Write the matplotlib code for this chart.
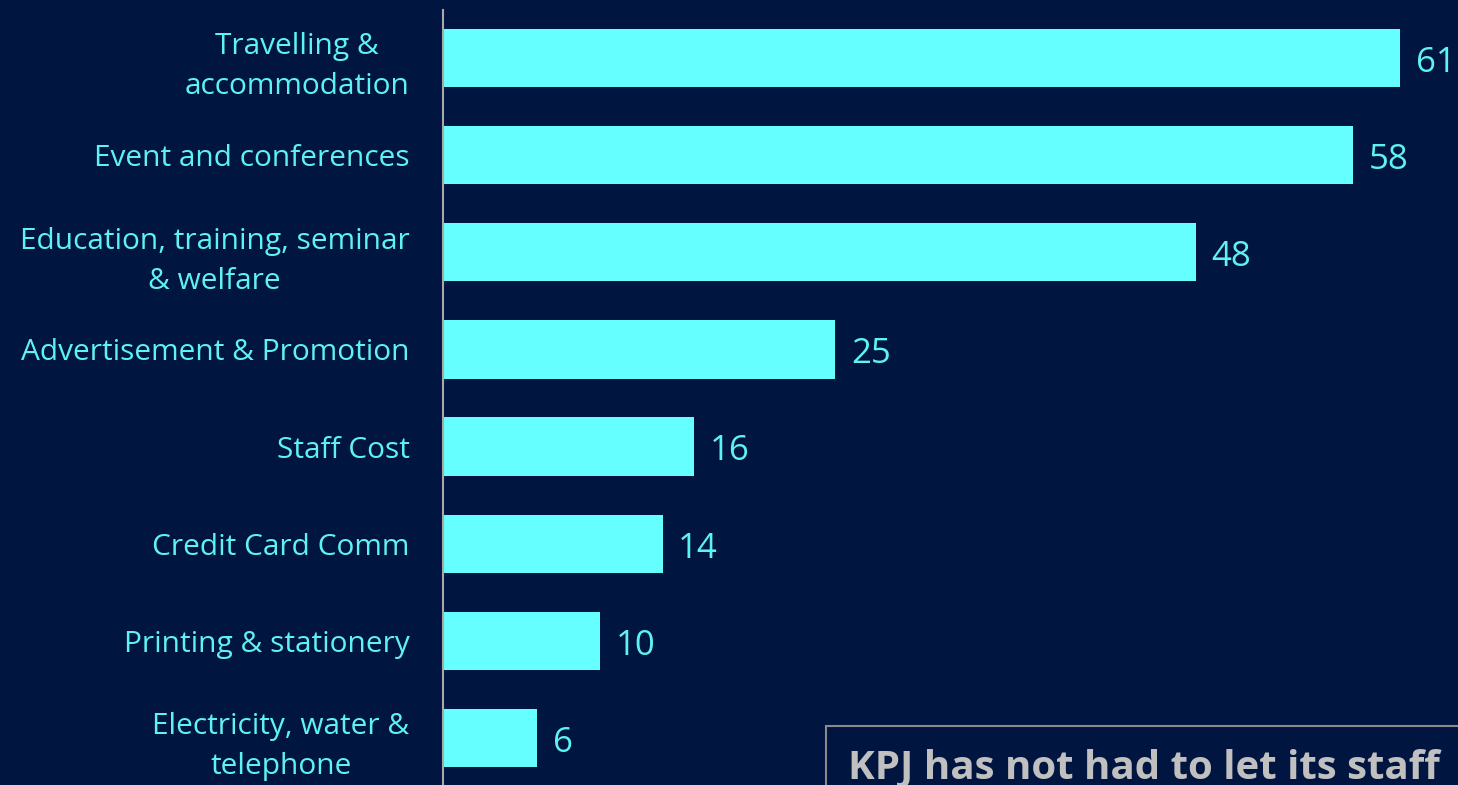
import matplotlib
matplotlib.use("Agg")
import matplotlib.pyplot as plt
from matplotlib.patches import Rectangle

categories = [
    "Travelling &\naccommodation",
    "Event and conferences",
    "Education, training, seminar\n& welfare",
    "Advertisement & Promotion",
    "Staff Cost",
    "Credit Card Comm",
    "Printing & stationery",
    "Electricity, water &\ntelephone",
]
values = [61, 58, 48, 25, 16, 14, 10, 6]
note_text = "KPJ has not had to let its staff"

BG = "#001540"
BAR = "#66FFFF"
LABEL = "#5FF2F2"

plt.rcParams['font.family'] = ['Open Sans', 'DejaVu Sans']

fig = plt.figure(figsize=(14.58, 7.85), dpi=100, facecolor=BG)
ax = fig.add_axes([443/1458, 0, 1 - 443/1458, 1 - 10/785])
ax.set_facecolor(BG)

y = list(range(len(values)))
ax.barh(y, values, height=0.6, color=BAR)
ax.set_ylim(7.484, -0.494)
ax.set_xlim(0, 64.7)

ax.set_yticks(y)
ax.set_yticklabels(categories, fontsize=21.5, color=LABEL, multialignment='center',
                   linespacing=1.5)
ax.tick_params(axis='y', length=0, pad=24)
ax.set_xticks([])
for s in ['top', 'right', 'bottom']:
    ax.spines[s].set_visible(False)
ax.spines['left'].set_color('#A8A8A8')
ax.spines['left'].set_linewidth(1.5)

for yi, v in zip(y, values):
    ax.text(v + 1.0, yi + 0.05, str(v), va='center', ha='left', fontsize=25, color=LABEL)

# note box (cut off at bottom right)
fig.patches.append(Rectangle((826/1458, -0.05), 1.0, (785 - 726)/785 + 0.05,
                             transform=fig.transFigure, facecolor=BG,
                             edgecolor='#8A8A8A', linewidth=1.5, zorder=5))
fig.text(848/1458, 7/785, note_text, fontsize=29, fontweight='bold',
         color='#C0C0C0', ha='left', va='baseline', zorder=6,
         family=['Open Sans', 'DejaVu Sans'])

fig.savefig("out.png", dpi=100, facecolor=BG)
